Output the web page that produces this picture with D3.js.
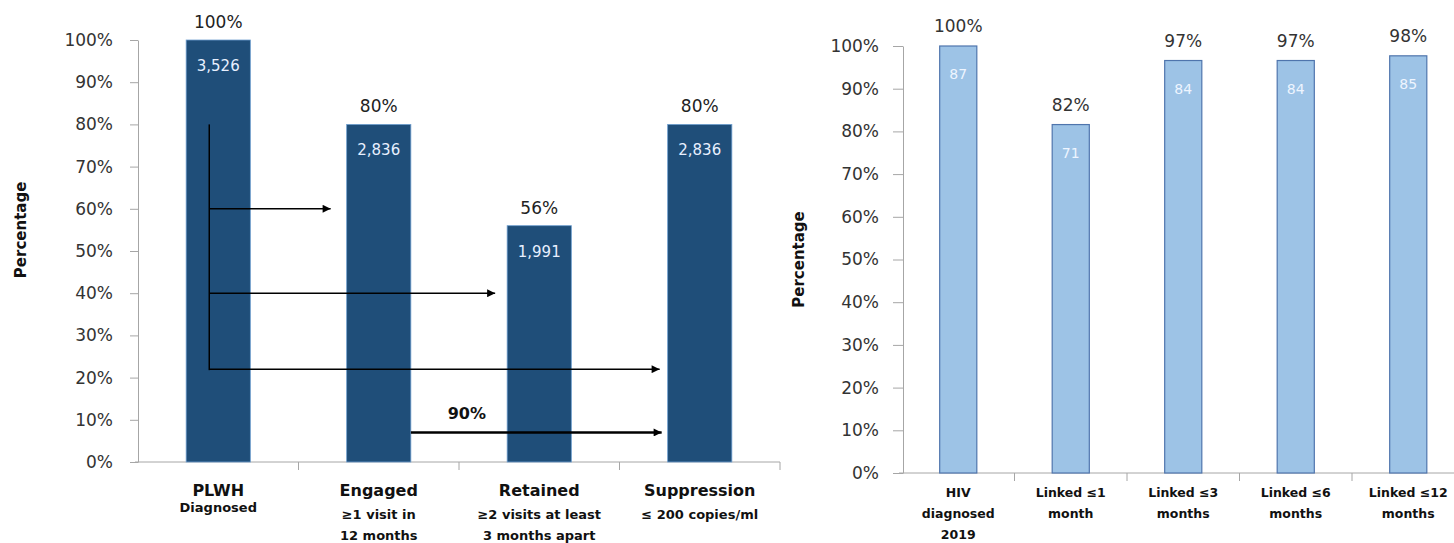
<!doctype html>
<html>
<head>
<meta charset="utf-8">
<script src="https://d3js.org/d3.v7.min.js"></script>
<style>
  body { margin: 0; background: #fff; }
  .tick text { font-family: "DejaVu Sans", Verdana, sans-serif; fill: #333; }
  .cat { font-family: "DejaVu Sans", sans-serif; font-weight: bold; fill: #111; }
</style>
</head>
<body>
<div class="chart"></div>
<script>
// left panel: care continuum
var stages = ["PLWH", "Engaged", "Retained", "Suppression"];
var stagePct = [100, 80, 56, 80];
var stagePctLabel = ["100%", "80%", "56%", "80%"];
var stageCount = ["3,526", "2,836", "1,991", "2,836"];
var stageSub = [["Diagnosed"], ["\u22651 visit in", "12 months"], ["\u22652 visits at least", "3 months apart"], ["\u2264 200 copies/ml"]];
var arrowLevels = [60, 40, 22];
var arrowTargets = ["Engaged", "Retained", "Suppression"];
var trunkTop = 80;
var suppArrowLevel = 7;
var suppArrowLabel = "90%";

// right panel: linkage
var linkCats = [["HIV", "diagnosed", "2019"], ["Linked \u22641", "month"], ["Linked \u22643", "months"], ["Linked \u22646", "months"], ["Linked \u226412", "months"]];
var linkPct = [100, 81.6, 96.6, 96.6, 97.7];
var linkPctLabel = ["100%", "82%", "97%", "97%", "98%"];
var linkCount = ["87", "71", "84", "84", "85"];

var yTicks = [0, 10, 20, 30, 40, 50, 60, 70, 80, 90, 100];

var svg = d3.select('.chart').append('svg')
  .attr('width', 1454).attr('height', 543);

svg.append('defs').append('marker')
  .attr('id', 'head')
  .attr('viewBox', '0 0 10 10')
  .attr('refX', 10).attr('refY', 5)
  .attr('markerWidth', 10).attr('markerHeight', 8)
  .attr('markerUnits', 'userSpaceOnUse')
  .attr('orient', 'auto')
  .append('path').attr('d', 'M0,0L10,5L0,10Z').attr('fill', '#000');

function yAxis(g, scale, size, pad, fs) {
  g.call(d3.axisLeft(scale).tickValues(yTicks).tickFormat(function(d){ return d + '%'; })
      .tickSize(size).tickSizeOuter(0).tickPadding(pad));
  g.selectAll('.tick text').style('font-size', fs + 'px');
  g.selectAll('line, path').attr('stroke', '#a6a6a6');
}

function xAxisLine(g, band, y0) {
  var r = band.range();
  g.append('line').attr('x1', r[0] - 3).attr('x2', r[1]).attr('y1', y0).attr('y2', y0)
    .attr('stroke', '#a6a6a6');
  var bounds = band.domain().map(function(d){ return band(d) - band.step() * band.paddingOuter() + band.step(); });
  g.selectAll('.xt').data(bounds).enter().append('line')
    .attr('x1', function(d){ return d; }).attr('x2', function(d){ return d; })
    .attr('y1', y0).attr('y2', y0 + 8).attr('stroke', '#a6a6a6');
}

// ---------- left ----------
var L = svg.append('g');
var xL = d3.scaleBand().domain(stages).range([138, 780]).paddingInner(0.6).paddingOuter(0.3);
var yL = d3.scaleLinear().domain([0, 100]).range([462, 40]);

L.append('g').attr('transform', 'translate(138,0)').call(yAxis, yL, 8, 17, 17);
xAxisLine(L, xL, yL(0));

L.selectAll('.bar').data(stagePct).enter().append('rect')
  .attr('x', function(d, i){ return xL(stages[i]); })
  .attr('y', function(d){ return yL(d); })
  .attr('width', xL.bandwidth())
  .attr('height', function(d){ return yL(0) - yL(d); })
  .attr('fill', '#1f4e79').attr('stroke', '#6f9fcf').attr('stroke-width', 0.8);

L.selectAll('.top').data(stagePct).enter().append('text')
  .attr('x', function(d, i){ return xL(stages[i]) + xL.bandwidth() / 2; })
  .attr('y', function(d){ return yL(d) - 12; })
  .attr('text-anchor', 'middle')
  .style('font', '17px "DejaVu Sans", sans-serif').style('fill', '#222')
  .text(function(d, i){ return stagePctLabel[i]; });

L.selectAll('.cnt').data(stagePct).enter().append('text')
  .attr('x', function(d, i){ return xL(stages[i]) + xL.bandwidth() / 2; })
  .attr('y', function(d){ return yL(d) + 31; })
  .attr('text-anchor', 'middle')
  .style('font', '15px "DejaVu Sans", sans-serif').style('fill', '#e8f0ff')
  .text(function(d, i){ return stageCount[i]; });

stages.forEach(function(s, i) {
  var cx = xL(s) + xL.bandwidth() / 2;
  L.append('text').attr('class', 'cat').attr('x', cx).attr('y', 496)
    .attr('text-anchor', 'middle').style('font-size', '16px').text(s);
  stageSub[i].forEach(function(t, j) {
    L.append('text').attr('class', 'cat').attr('x', cx).attr('y', (i === 0 ? 512 : 519) + j * 21)
      .attr('text-anchor', 'middle').style('font-size', '13px').text(t);
  });
});

L.append('text')
  .attr('transform', 'translate(26,' + yL(55) + ') rotate(-90)')
  .attr('text-anchor', 'middle').attr('class', 'cat').style('font-size', '15px')
  .text('Percentage');

// arrows
var trunkX = xL(stages[0]) + xL.bandwidth() * 0.36;
L.append('line').attr('x1', trunkX).attr('x2', trunkX)
  .attr('y1', yL(trunkTop)).attr('y2', yL(arrowLevels[arrowLevels.length - 1]) + 1)
  .attr('stroke', '#000').attr('stroke-width', 1.5);
arrowLevels.forEach(function(v, i) {
  L.append('line').attr('x1', trunkX).attr('x2', xL(arrowTargets[i]) - 8 - (2 - i) * 4)
    .attr('y1', yL(v)).attr('y2', yL(v))
    .attr('stroke', '#000').attr('stroke-width', 1.5).attr('marker-end', 'url(#head)');
});
L.append('line').attr('x1', xL('Engaged') + xL.bandwidth()).attr('x2', xL('Suppression') - 6)
  .attr('y1', yL(suppArrowLevel)).attr('y2', yL(suppArrowLevel))
  .attr('stroke', '#000').attr('stroke-width', 2.5).attr('marker-end', 'url(#head)');
L.append('text').attr('x', xL('Engaged') + xL.bandwidth() + 56).attr('y', yL(suppArrowLevel) - 13)
  .attr('text-anchor', 'middle')
  .style('font', 'bold 16px "DejaVu Sans", sans-serif').style('fill', '#111')
  .text(suppArrowLabel);

// ---------- right ----------
var R = svg.append('g');
var xR = d3.scaleBand().domain(d3.range(linkCats.length)).range([902, 1464.5]).paddingInner(0.67).paddingOuter(0.335);
var yR = d3.scaleLinear().domain([0, 100]).range([473, 46]);

R.append('g').attr('transform', 'translate(903,0)').call(yAxis, yR, 10, 14, 17);
xAxisLine(R, xR, yR(0));

R.selectAll('.bar').data(linkPct).enter().append('rect')
  .attr('x', function(d, i){ return xR(i); })
  .attr('y', function(d){ return yR(d); })
  .attr('width', xR.bandwidth())
  .attr('height', function(d){ return yR(0) - yR(d); })
  .attr('fill', '#9dc3e6').attr('stroke', '#4f75ad').attr('stroke-width', 1.2);

R.selectAll('.top').data(linkPct).enter().append('text')
  .attr('x', function(d, i){ return xR(i) + xR.bandwidth() / 2; })
  .attr('y', function(d){ return yR(d) - 14; })
  .attr('text-anchor', 'middle')
  .style('font', '17px "DejaVu Sans", sans-serif').style('fill', '#333')
  .text(function(d, i){ return linkPctLabel[i]; });

R.selectAll('.cnt').data(linkPct).enter().append('text')
  .attr('x', function(d, i){ return xR(i) + xR.bandwidth() / 2; })
  .attr('y', function(d){ return yR(d) + 33; })
  .attr('text-anchor', 'middle')
  .style('font', '14px "DejaVu Sans", sans-serif').style('fill', '#eef5ff')
  .text(function(d, i){ return linkCount[i]; });

linkCats.forEach(function(lines, i) {
  var cx = xR(i) + xR.bandwidth() / 2;
  lines.forEach(function(t, j) {
    R.append('text').attr('class', 'cat').attr('x', cx).attr('y', 497 + j * 21)
      .attr('text-anchor', 'middle').style('font-size', '12.5px').text(t);
  });
});

R.append('text')
  .attr('transform', 'translate(804,' + yR(50) + ') rotate(-90)')
  .attr('text-anchor', 'middle').attr('class', 'cat').style('font-size', '15px')
  .text('Percentage');
</script>
</body>
</html>
